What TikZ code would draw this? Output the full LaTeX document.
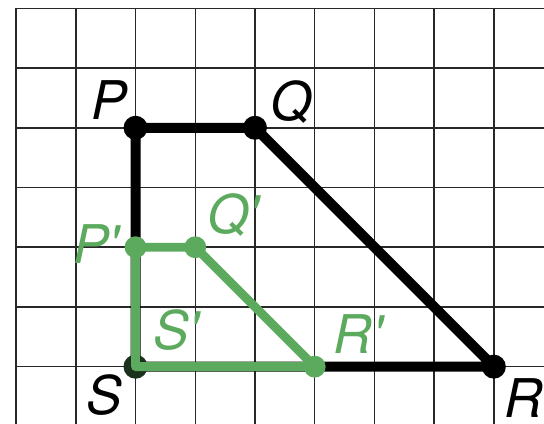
\documentclass[tikz,border=0pt]{standalone}
\usepackage{fontspec}
\setmainfont{TeX Gyre Heros}
\usepackage{tikz}

\definecolor{imggreen}{RGB}{92,170,94}
\definecolor{gridgray}{RGB}{40,40,40}

\tikzset{
  gridline/.style={draw=gridgray, line width=1.1pt},
  orig/.style={draw=black, line width=7.5pt, line cap=round, line join=round},
  image/.style={draw=imggreen, line width=6.6pt, line cap=round, line join=round},
  lbl/.style={inner sep=0pt, font=\fontsize{40}{48}\selectfont\itshape, text depth=0pt},
  primelbl/.style={lbl, text=imggreen},
}
\newcommand{\pr}{\textquotesingle}

\begin{document}
\begin{tikzpicture}[x=44.78pt,y=44.78pt]

\useasboundingbox (-2.27,-0.96) rectangle (6.84,6.14);
\clip (-2.27,-0.96) rectangle (6.84,6.14);

%Grid
\draw [gridline, step={(1,1)}] (-2,-2) grid (8,6);

%Points
\coordinate (P) at (0,4);
\coordinate (Q) at (2,4);
\coordinate (R) at (6,0);
\coordinate (S) at (0,0);
\coordinate (P1) at (0,2);
\coordinate (Q1) at (1,2);
\coordinate (R1) at (3,0);
\coordinate (S1) at (0,0);

%Original shape
\draw [orig] (S) -- (P) -- (Q) -- (R) -- cycle ;
\fill (P) circle (9pt) ;
\fill (Q) circle (9pt) ;
\fill (R) circle (9pt) ;
\fill (S) circle (9pt) ;

%Image shape
\draw [image] (S1) -- (P1) -- (Q1) -- (R1) -- cycle ;
\fill [imggreen] (P1) circle (8.2pt) ;
\fill [imggreen] (Q1) circle (8.2pt) ;
\fill [imggreen] (R1) circle (8.2pt) ;
\fill [imggreen, fill opacity=0.3] (S1) circle (9pt) ;

% Text Node
\node [lbl] (lP) at (-0.44,4.47) {P};
% Text Node
\node [lbl] (lQ) at (2.6,4.45) {Q};
% Text Node
\node [lbl] (lR) at (6.5,-0.52) {R};
% Text Node
\node [lbl] (lS) at (-0.52,-0.47) {S};
% Text Node
\node [primelbl] (lP1) at (-0.66,2.05) {P\pr};
% Text Node
\node [primelbl] (lQ1) at (1.63,2.57) {Q\pr};
% Text Node
\node [primelbl] (lS1) at (0.68,0.62) {S\pr};
% Text Node
\node [primelbl] (lR1) at (3.73,0.54) {R\pr};
\end{tikzpicture}
\end{document}
